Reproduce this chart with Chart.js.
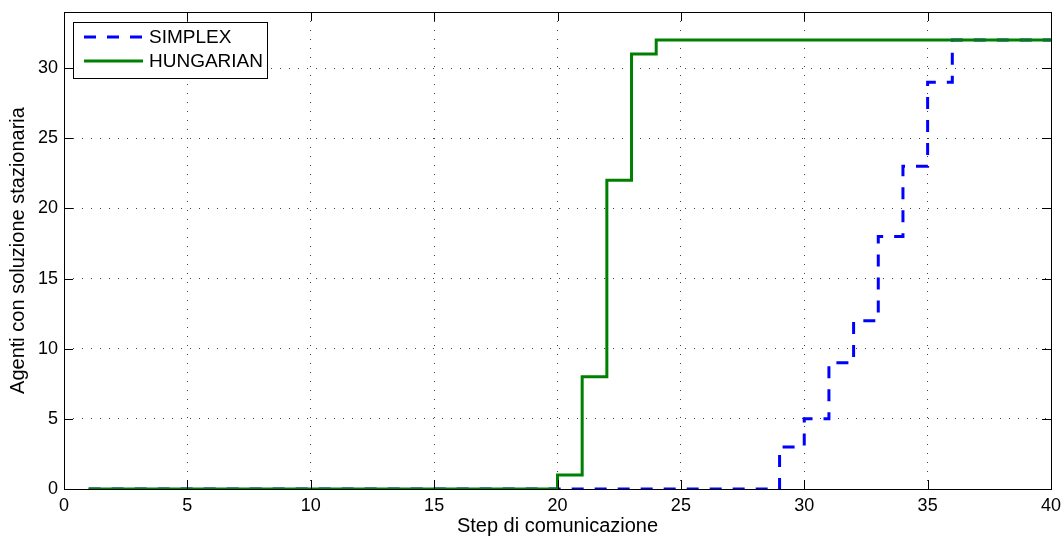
<!DOCTYPE html>
<html lang="it">
<head>
  <meta charset="UTF-8">
  <title>Agenti con soluzione stazionaria</title>
  <script src="https://cdn.jsdelivr.net/npm/chart.js"></script>
  <style>
    body {
      margin: 0;
      padding: 0;
      background: white;
    }
    .chart-box {
      position: relative;
      width: 1063px;
      height: 538px;
    }
  </style>
</head>
<body>
  <div class="chart-box">
    <canvas id="stepChart"></canvas>
  </div>

  <script>
    // step index (x), one value per step
    const steps = [1, 2, 3, 4, 5, 6, 7, 8, 9, 10, 11, 12, 13, 14, 15, 16, 17, 18, 19, 20,
                   21, 22, 23, 24, 25, 26, 27, 28, 29, 30, 31, 32, 33, 34, 35, 36, 37, 38, 39, 40];
    const simplex = [0, 0, 0, 0, 0, 0, 0, 0, 0, 0, 0, 0, 0, 0, 0, 0, 0, 0, 0, 0,
                     0, 0, 0, 0, 0, 0, 0, 0, 3, 5, 9, 12, 18, 23, 29, 32, 32, 32, 32, 32];
    const hungarian = [0, 0, 0, 0, 0, 0, 0, 0, 0, 0, 0, 0, 0, 0, 0, 0, 0, 0, 0, 1,
                       8, 22, 31, 32, 32, 32, 32, 32, 32, 32, 32, 32, 32, 32, 32, 32, 32, 32, 32, 32];
    const xTicks = [0, 5, 10, 15, 20, 25, 30, 35, 40];
    const yTicks = [0, 5, 10, 15, 20, 25, 30];

    const FONT = 'Liberation Sans, Arial, sans-serif';

    function toPoints(values) {
      return steps.map((s, i) => ({ x: s, y: values[i] }));
    }

    // frame, inward ticks (matlab style) and the boxed legend
    const matlabFrame = {
      id: 'matlabFrame',
      afterDraw(chart) {
        const ctx = chart.ctx;
        const a = chart.chartArea;
        const xs = chart.scales.x;
        const ys = chart.scales.y;
        const len = 9;
        ctx.save();
        ctx.strokeStyle = '#000';
        ctx.lineWidth = 1;
        ctx.beginPath();
        xTicks.forEach(t => {
          const px = Math.round(xs.getPixelForValue(t)) + 0.5;
          ctx.moveTo(px, a.bottom); ctx.lineTo(px, a.bottom - len);
          ctx.moveTo(px, a.top); ctx.lineTo(px, a.top + len);
        });
        yTicks.forEach(t => {
          const py = Math.round(ys.getPixelForValue(t)) + 0.5;
          ctx.moveTo(a.left, py); ctx.lineTo(a.left + len, py);
          ctx.moveTo(a.right, py); ctx.lineTo(a.right - len, py);
        });
        ctx.stroke();
        ctx.strokeRect(Math.round(a.left) + 0.5, Math.round(a.top) + 0.5,
                       Math.round(a.right - a.left), Math.round(a.bottom - a.top));

        // legend
        const lx = 73, ly = 22, lw = 194, lh = 56;
        ctx.fillStyle = '#fff';
        ctx.fillRect(lx, ly, lw, lh);
        ctx.strokeRect(lx + 0.5, ly + 0.5, lw, lh);
        ctx.font = '19px ' + FONT;
        ctx.textBaseline = 'middle';
        chart.data.datasets.forEach((ds, i) => {
          const y = ly + 15 + i * 24;
          ctx.strokeStyle = ds.borderColor;
          ctx.lineWidth = ds.borderWidth;
          ctx.setLineDash(ds.borderDash || []);
          ctx.beginPath();
          ctx.moveTo(84, y);
          ctx.lineTo(143, y);
          ctx.stroke();
          ctx.setLineDash([]);
          ctx.fillStyle = '#000';
          ctx.fillText(ds.label, 149, y + 1);
        });
        ctx.restore();
      }
    };

    const stepChart = new Chart(document.getElementById('stepChart').getContext('2d'), {
      type: 'line',
      data: {
        datasets: [
          {
            label: 'SIMPLEX',
            data: toPoints(simplex),
            borderColor: '#0000ff',
            borderWidth: 3,
            borderDash: [12, 11],
            stepped: 'before',
            pointRadius: 0,
            fill: false,
            order: 1
          },
          {
            label: 'HUNGARIAN',
            data: toPoints(hungarian),
            borderColor: '#008000',
            borderWidth: 3,
            stepped: 'before',
            pointRadius: 0,
            fill: false,
            order: 0
          }
        ]
      },
      options: {
        responsive: true,
        maintainAspectRatio: false,
        animation: false,
        layout: {
          padding: { left: 0, top: 12, right: 12, bottom: 0 }
        },
        plugins: {
          legend: { display: false },
          tooltip: { enabled: false }
        },
        scales: {
          x: {
            type: 'linear',
            min: 0,
            max: 40,
            afterBuildTicks: (scale) => { scale.ticks = xTicks.map(v => ({ value: v })); },
            afterFit: (scale) => {
              scale.height = 49;
              scale.paddingLeft = 0;
              scale.paddingRight = 0;
            },
            ticks: {
              color: '#000',
              padding: 6,
              font: { family: FONT, size: 18 }
            },
            grid: {
              color: 'rgba(0,0,0,0.75)',
              lineWidth: 1,
              drawTicks: false
            },
            border: { display: false, dash: [1, 8] },
            title: {
              display: true,
              text: 'Step di comunicazione',
              color: '#000',
              font: { family: FONT, size: 20 },
              padding: { top: 0, bottom: 0 }
            }
          },
          y: {
            type: 'linear',
            min: 0,
            max: 34,
            afterBuildTicks: (scale) => { scale.ticks = yTicks.map(v => ({ value: v })); },
            afterFit: (scale) => {
              scale.width = 64;
              scale.paddingTop = 0;
              scale.paddingBottom = 0;
            },
            ticks: {
              color: '#000',
              padding: 6,
              font: { family: FONT, size: 18 }
            },
            grid: {
              color: 'rgba(0,0,0,0.75)',
              lineWidth: 1,
              drawTicks: false
            },
            border: { display: false, dash: [1, 8] },
            title: {
              display: true,
              text: 'Agenti con soluzione stazionaria',
              color: '#000',
              font: { family: FONT, size: 20 },
              padding: { top: 6, bottom: 0 }
            }
          }
        }
      },
      plugins: [matlabFrame]
    });
  </script>
</body>
</html>
